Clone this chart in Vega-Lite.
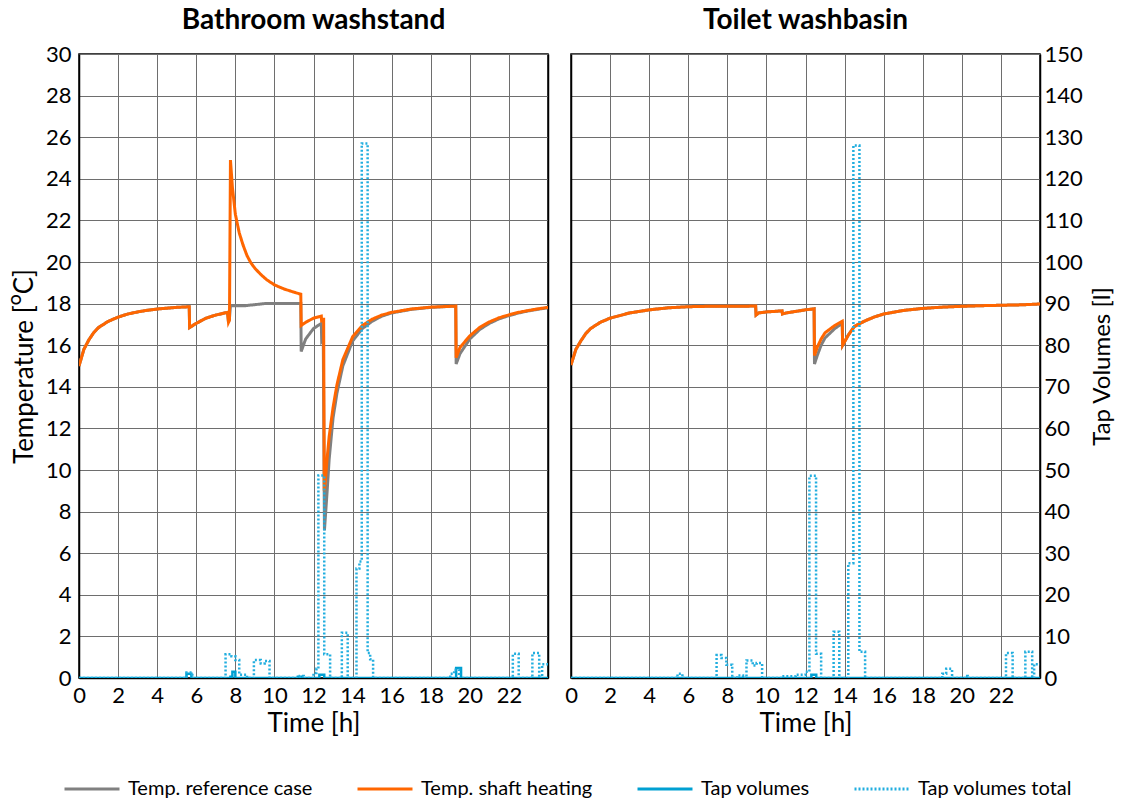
{
  "$schema": "https://vega.github.io/schema/vega-lite/v6.json",
  "padding": {"left": 10, "top": 6, "right": 2, "bottom": 2},
  "background": "white",
  "config": {
    "font": "Lato",
    "view": {"stroke": "black", "strokeWidth": 1.5},
    "axis": {"labelFont": "Lato", "titleFont": "Lato", "labelFontSize": 22, "titleFontSize": 26, "labelColor": "black", "titleColor": "black", "titleFontWeight": "normal", "domainColor": "black", "domainWidth": 1.5, "gridColor": "#6e6e6e", "gridWidth": 1, "gridOpacity": 1, "ticks": false, "labelPadding": 8, "labelFlush": false},
    "title": {"font": "Lato", "fontSize": 28, "fontWeight": "bold", "color": "black", "offset": 8},
    "legend": {"labelFont": "Lato", "labelFontSize": 20, "labelColor": "black", "labelLimit": 400}
  },
  "datasets": {
    "d": [
      {"p":"L","s":"Temp. reference case","t":0,"v":15.0},
      {"p":"L","s":"Temp. reference case","t":0.25,"v":15.8},
      {"p":"L","s":"Temp. reference case","t":0.5,"v":16.25},
      {"p":"L","s":"Temp. reference case","t":0.75,"v":16.6},
      {"p":"L","s":"Temp. reference case","t":1,"v":16.85},
      {"p":"L","s":"Temp. reference case","t":1.5,"v":17.15},
      {"p":"L","s":"Temp. reference case","t":2,"v":17.35},
      {"p":"L","s":"Temp. reference case","t":2.5,"v":17.5},
      {"p":"L","s":"Temp. reference case","t":3,"v":17.6},
      {"p":"L","s":"Temp. reference case","t":3.5,"v":17.68},
      {"p":"L","s":"Temp. reference case","t":4,"v":17.74},
      {"p":"L","s":"Temp. reference case","t":4.5,"v":17.78},
      {"p":"L","s":"Temp. reference case","t":5,"v":17.82},
      {"p":"L","s":"Temp. reference case","t":5.64,"v":17.85},
      {"p":"L","s":"Temp. reference case","t":5.66,"v":16.85},
      {"p":"L","s":"Temp. reference case","t":6,"v":17.05},
      {"p":"L","s":"Temp. reference case","t":6.5,"v":17.3},
      {"p":"L","s":"Temp. reference case","t":7,"v":17.45},
      {"p":"L","s":"Temp. reference case","t":7.6,"v":17.58},
      {"p":"L","s":"Temp. reference case","t":7.65,"v":17.1},
      {"p":"L","s":"Temp. reference case","t":7.7,"v":17.3},
      {"p":"L","s":"Temp. reference case","t":7.75,"v":17.9},
      {"p":"L","s":"Temp. reference case","t":8.5,"v":17.9},
      {"p":"L","s":"Temp. reference case","t":9,"v":17.95},
      {"p":"L","s":"Temp. reference case","t":9.5,"v":18.0},
      {"p":"L","s":"Temp. reference case","t":11.35,"v":18.0},
      {"p":"L","s":"Temp. reference case","t":11.37,"v":15.7},
      {"p":"L","s":"Temp. reference case","t":11.6,"v":16.3},
      {"p":"L","s":"Temp. reference case","t":12,"v":16.8},
      {"p":"L","s":"Temp. reference case","t":12.4,"v":17.05},
      {"p":"L","s":"Temp. reference case","t":12.42,"v":16.2},
      {"p":"L","s":"Temp. reference case","t":12.5,"v":16.3},
      {"p":"L","s":"Temp. reference case","t":12.56,"v":7.1},
      {"p":"L","s":"Temp. reference case","t":12.7,"v":9.0},
      {"p":"L","s":"Temp. reference case","t":12.8,"v":10.5},
      {"p":"L","s":"Temp. reference case","t":13.0,"v":12.5},
      {"p":"L","s":"Temp. reference case","t":13.2,"v":13.7},
      {"p":"L","s":"Temp. reference case","t":13.5,"v":15.0},
      {"p":"L","s":"Temp. reference case","t":14,"v":16.2},
      {"p":"L","s":"Temp. reference case","t":14.5,"v":16.8},
      {"p":"L","s":"Temp. reference case","t":15,"v":17.15},
      {"p":"L","s":"Temp. reference case","t":15.5,"v":17.4},
      {"p":"L","s":"Temp. reference case","t":16,"v":17.55},
      {"p":"L","s":"Temp. reference case","t":17,"v":17.72},
      {"p":"L","s":"Temp. reference case","t":18,"v":17.82},
      {"p":"L","s":"Temp. reference case","t":19.28,"v":17.88},
      {"p":"L","s":"Temp. reference case","t":19.3,"v":15.1},
      {"p":"L","s":"Temp. reference case","t":19.5,"v":15.6},
      {"p":"L","s":"Temp. reference case","t":20,"v":16.3},
      {"p":"L","s":"Temp. reference case","t":20.5,"v":16.75},
      {"p":"L","s":"Temp. reference case","t":21,"v":17.05},
      {"p":"L","s":"Temp. reference case","t":21.5,"v":17.27},
      {"p":"L","s":"Temp. reference case","t":22,"v":17.42},
      {"p":"L","s":"Temp. reference case","t":22.5,"v":17.55},
      {"p":"L","s":"Temp. reference case","t":23,"v":17.65},
      {"p":"L","s":"Temp. reference case","t":23.5,"v":17.73},
      {"p":"L","s":"Temp. reference case","t":24,"v":17.8},

      {"p":"L","s":"Temp. shaft heating","t":0,"v":15.0},
      {"p":"L","s":"Temp. shaft heating","t":0.25,"v":15.8},
      {"p":"L","s":"Temp. shaft heating","t":0.5,"v":16.25},
      {"p":"L","s":"Temp. shaft heating","t":0.75,"v":16.6},
      {"p":"L","s":"Temp. shaft heating","t":1,"v":16.85},
      {"p":"L","s":"Temp. shaft heating","t":1.5,"v":17.15},
      {"p":"L","s":"Temp. shaft heating","t":2,"v":17.35},
      {"p":"L","s":"Temp. shaft heating","t":2.5,"v":17.5},
      {"p":"L","s":"Temp. shaft heating","t":3,"v":17.6},
      {"p":"L","s":"Temp. shaft heating","t":3.5,"v":17.68},
      {"p":"L","s":"Temp. shaft heating","t":4,"v":17.74},
      {"p":"L","s":"Temp. shaft heating","t":4.5,"v":17.78},
      {"p":"L","s":"Temp. shaft heating","t":5,"v":17.82},
      {"p":"L","s":"Temp. shaft heating","t":5.64,"v":17.85},
      {"p":"L","s":"Temp. shaft heating","t":5.66,"v":16.85},
      {"p":"L","s":"Temp. shaft heating","t":6,"v":17.05},
      {"p":"L","s":"Temp. shaft heating","t":6.5,"v":17.3},
      {"p":"L","s":"Temp. shaft heating","t":7,"v":17.45},
      {"p":"L","s":"Temp. shaft heating","t":7.6,"v":17.58},
      {"p":"L","s":"Temp. shaft heating","t":7.65,"v":17.1},
      {"p":"L","s":"Temp. shaft heating","t":7.7,"v":17.2},
      {"p":"L","s":"Temp. shaft heating","t":7.75,"v":24.9},
      {"p":"L","s":"Temp. shaft heating","t":7.85,"v":23.6},
      {"p":"L","s":"Temp. shaft heating","t":8.0,"v":22.3},
      {"p":"L","s":"Temp. shaft heating","t":8.2,"v":21.4},
      {"p":"L","s":"Temp. shaft heating","t":8.4,"v":20.8},
      {"p":"L","s":"Temp. shaft heating","t":8.6,"v":20.3},
      {"p":"L","s":"Temp. shaft heating","t":8.8,"v":19.95},
      {"p":"L","s":"Temp. shaft heating","t":9.0,"v":19.7},
      {"p":"L","s":"Temp. shaft heating","t":9.3,"v":19.4},
      {"p":"L","s":"Temp. shaft heating","t":9.6,"v":19.15},
      {"p":"L","s":"Temp. shaft heating","t":10,"v":18.9},
      {"p":"L","s":"Temp. shaft heating","t":10.5,"v":18.7},
      {"p":"L","s":"Temp. shaft heating","t":11,"v":18.55},
      {"p":"L","s":"Temp. shaft heating","t":11.35,"v":18.45},
      {"p":"L","s":"Temp. shaft heating","t":11.37,"v":16.95},
      {"p":"L","s":"Temp. shaft heating","t":11.6,"v":17.1},
      {"p":"L","s":"Temp. shaft heating","t":12,"v":17.3},
      {"p":"L","s":"Temp. shaft heating","t":12.4,"v":17.4},
      {"p":"L","s":"Temp. shaft heating","t":12.42,"v":17.1},
      {"p":"L","s":"Temp. shaft heating","t":12.45,"v":17.25},
      {"p":"L","s":"Temp. shaft heating","t":12.52,"v":17.25},
      {"p":"L","s":"Temp. shaft heating","t":12.55,"v":9.0},
      {"p":"L","s":"Temp. shaft heating","t":12.6,"v":9.4},
      {"p":"L","s":"Temp. shaft heating","t":12.7,"v":10.6},
      {"p":"L","s":"Temp. shaft heating","t":12.8,"v":11.6},
      {"p":"L","s":"Temp. shaft heating","t":13.0,"v":13.0},
      {"p":"L","s":"Temp. shaft heating","t":13.2,"v":14.1},
      {"p":"L","s":"Temp. shaft heating","t":13.5,"v":15.3},
      {"p":"L","s":"Temp. shaft heating","t":14,"v":16.4},
      {"p":"L","s":"Temp. shaft heating","t":14.5,"v":16.95},
      {"p":"L","s":"Temp. shaft heating","t":15,"v":17.25},
      {"p":"L","s":"Temp. shaft heating","t":15.5,"v":17.45},
      {"p":"L","s":"Temp. shaft heating","t":16,"v":17.58},
      {"p":"L","s":"Temp. shaft heating","t":17,"v":17.74},
      {"p":"L","s":"Temp. shaft heating","t":18,"v":17.83},
      {"p":"L","s":"Temp. shaft heating","t":19.28,"v":17.88},
      {"p":"L","s":"Temp. shaft heating","t":19.3,"v":15.4},
      {"p":"L","s":"Temp. shaft heating","t":19.5,"v":15.9},
      {"p":"L","s":"Temp. shaft heating","t":20,"v":16.45},
      {"p":"L","s":"Temp. shaft heating","t":20.5,"v":16.85},
      {"p":"L","s":"Temp. shaft heating","t":21,"v":17.12},
      {"p":"L","s":"Temp. shaft heating","t":21.5,"v":17.32},
      {"p":"L","s":"Temp. shaft heating","t":22,"v":17.46},
      {"p":"L","s":"Temp. shaft heating","t":22.5,"v":17.58},
      {"p":"L","s":"Temp. shaft heating","t":23,"v":17.67},
      {"p":"L","s":"Temp. shaft heating","t":23.5,"v":17.75},
      {"p":"L","s":"Temp. shaft heating","t":24,"v":17.82},

      {"p":"L","s":"Tap volumes","t":0,"v":0},
      {"p":"L","s":"Tap volumes","t":5.5,"v":1.0},
      {"p":"L","s":"Tap volumes","t":5.75,"v":0},
      {"p":"L","s":"Tap volumes","t":7.75,"v":0.3},
      {"p":"L","s":"Tap volumes","t":7.85,"v":1.5},
      {"p":"L","s":"Tap volumes","t":8.0,"v":0},
      {"p":"L","s":"Tap volumes","t":11.2,"v":0.3},
      {"p":"L","s":"Tap volumes","t":11.4,"v":0},
      {"p":"L","s":"Tap volumes","t":12.3,"v":0.8},
      {"p":"L","s":"Tap volumes","t":12.55,"v":0},
      {"p":"L","s":"Tap volumes","t":19.3,"v":2.4},
      {"p":"L","s":"Tap volumes","t":19.55,"v":0},
      {"p":"L","s":"Tap volumes","t":24,"v":0},

      {"p":"L","s":"Tap volumes total","t":0,"v":0},
      {"p":"L","s":"Tap volumes total","t":5.5,"v":1.3},
      {"p":"L","s":"Tap volumes total","t":5.8,"v":0},
      {"p":"L","s":"Tap volumes total","t":7.5,"v":5.7},
      {"p":"L","s":"Tap volumes total","t":7.8,"v":5.2},
      {"p":"L","s":"Tap volumes total","t":8.0,"v":4.3},
      {"p":"L","s":"Tap volumes total","t":8.2,"v":0.8},
      {"p":"L","s":"Tap volumes total","t":8.6,"v":0},
      {"p":"L","s":"Tap volumes total","t":8.95,"v":4.3},
      {"p":"L","s":"Tap volumes total","t":9.3,"v":3.5},
      {"p":"L","s":"Tap volumes total","t":9.5,"v":4.1},
      {"p":"L","s":"Tap volumes total","t":9.75,"v":0},
      {"p":"L","s":"Tap volumes total","t":11.3,"v":0.5},
      {"p":"L","s":"Tap volumes total","t":11.5,"v":0},
      {"p":"L","s":"Tap volumes total","t":12.0,"v":1.2},
      {"p":"L","s":"Tap volumes total","t":12.15,"v":2.2},
      {"p":"L","s":"Tap volumes total","t":12.25,"v":48.7},
      {"p":"L","s":"Tap volumes total","t":12.55,"v":5.7},
      {"p":"L","s":"Tap volumes total","t":12.85,"v":0},
      {"p":"L","s":"Tap volumes total","t":13.45,"v":10.9},
      {"p":"L","s":"Tap volumes total","t":13.75,"v":0},
      {"p":"L","s":"Tap volumes total","t":14.2,"v":26.3},
      {"p":"L","s":"Tap volumes total","t":14.35,"v":28.0},
      {"p":"L","s":"Tap volumes total","t":14.47,"v":128.5},
      {"p":"L","s":"Tap volumes total","t":14.77,"v":6.0},
      {"p":"L","s":"Tap volumes total","t":14.9,"v":4.5},
      {"p":"L","s":"Tap volumes total","t":15.05,"v":0},
      {"p":"L","s":"Tap volumes total","t":19.0,"v":1.0},
      {"p":"L","s":"Tap volumes total","t":19.2,"v":2.0},
      {"p":"L","s":"Tap volumes total","t":19.45,"v":0},
      {"p":"L","s":"Tap volumes total","t":22.2,"v":5.8},
      {"p":"L","s":"Tap volumes total","t":22.5,"v":0},
      {"p":"L","s":"Tap volumes total","t":23.2,"v":6.0},
      {"p":"L","s":"Tap volumes total","t":23.55,"v":0},
      {"p":"L","s":"Tap volumes total","t":23.7,"v":3.3},
      {"p":"L","s":"Tap volumes total","t":24,"v":3.3},

      {"p":"R","s":"Temp. reference case","t":0,"v":15.05},
      {"p":"R","s":"Temp. reference case","t":0.25,"v":15.8},
      {"p":"R","s":"Temp. reference case","t":0.5,"v":16.2},
      {"p":"R","s":"Temp. reference case","t":0.75,"v":16.55},
      {"p":"R","s":"Temp. reference case","t":1,"v":16.8},
      {"p":"R","s":"Temp. reference case","t":1.5,"v":17.1},
      {"p":"R","s":"Temp. reference case","t":2,"v":17.3},
      {"p":"R","s":"Temp. reference case","t":3,"v":17.55},
      {"p":"R","s":"Temp. reference case","t":4,"v":17.7},
      {"p":"R","s":"Temp. reference case","t":5,"v":17.8},
      {"p":"R","s":"Temp. reference case","t":6,"v":17.85},
      {"p":"R","s":"Temp. reference case","t":7,"v":17.87},
      {"p":"R","s":"Temp. reference case","t":9.45,"v":17.88},
      {"p":"R","s":"Temp. reference case","t":9.47,"v":17.45},
      {"p":"R","s":"Temp. reference case","t":9.6,"v":17.55},
      {"p":"R","s":"Temp. reference case","t":10,"v":17.6},
      {"p":"R","s":"Temp. reference case","t":10.8,"v":17.65},
      {"p":"R","s":"Temp. reference case","t":10.82,"v":17.5},
      {"p":"R","s":"Temp. reference case","t":11,"v":17.55},
      {"p":"R","s":"Temp. reference case","t":12,"v":17.7},
      {"p":"R","s":"Temp. reference case","t":12.44,"v":17.75},
      {"p":"R","s":"Temp. reference case","t":12.46,"v":15.1},
      {"p":"R","s":"Temp. reference case","t":12.6,"v":15.5},
      {"p":"R","s":"Temp. reference case","t":12.8,"v":16.0},
      {"p":"R","s":"Temp. reference case","t":13.0,"v":16.35},
      {"p":"R","s":"Temp. reference case","t":13.5,"v":16.8},
      {"p":"R","s":"Temp. reference case","t":13.88,"v":17.05},
      {"p":"R","s":"Temp. reference case","t":13.9,"v":16.0},
      {"p":"R","s":"Temp. reference case","t":14.2,"v":16.5},
      {"p":"R","s":"Temp. reference case","t":14.5,"v":16.9},
      {"p":"R","s":"Temp. reference case","t":15,"v":17.15},
      {"p":"R","s":"Temp. reference case","t":15.5,"v":17.35},
      {"p":"R","s":"Temp. reference case","t":16,"v":17.5},
      {"p":"R","s":"Temp. reference case","t":17,"v":17.67},
      {"p":"R","s":"Temp. reference case","t":18,"v":17.77},
      {"p":"R","s":"Temp. reference case","t":19,"v":17.83},
      {"p":"R","s":"Temp. reference case","t":20,"v":17.87},
      {"p":"R","s":"Temp. reference case","t":21,"v":17.9},
      {"p":"R","s":"Temp. reference case","t":22,"v":17.92},
      {"p":"R","s":"Temp. reference case","t":23,"v":17.94},
      {"p":"R","s":"Temp. reference case","t":24,"v":17.98},

      {"p":"R","s":"Temp. shaft heating","t":0,"v":15.05},
      {"p":"R","s":"Temp. shaft heating","t":0.25,"v":15.8},
      {"p":"R","s":"Temp. shaft heating","t":0.5,"v":16.2},
      {"p":"R","s":"Temp. shaft heating","t":0.75,"v":16.55},
      {"p":"R","s":"Temp. shaft heating","t":1,"v":16.8},
      {"p":"R","s":"Temp. shaft heating","t":1.5,"v":17.1},
      {"p":"R","s":"Temp. shaft heating","t":2,"v":17.3},
      {"p":"R","s":"Temp. shaft heating","t":3,"v":17.55},
      {"p":"R","s":"Temp. shaft heating","t":4,"v":17.7},
      {"p":"R","s":"Temp. shaft heating","t":5,"v":17.8},
      {"p":"R","s":"Temp. shaft heating","t":6,"v":17.85},
      {"p":"R","s":"Temp. shaft heating","t":7,"v":17.87},
      {"p":"R","s":"Temp. shaft heating","t":9.45,"v":17.88},
      {"p":"R","s":"Temp. shaft heating","t":9.47,"v":17.45},
      {"p":"R","s":"Temp. shaft heating","t":9.6,"v":17.55},
      {"p":"R","s":"Temp. shaft heating","t":10,"v":17.6},
      {"p":"R","s":"Temp. shaft heating","t":10.8,"v":17.65},
      {"p":"R","s":"Temp. shaft heating","t":10.82,"v":17.5},
      {"p":"R","s":"Temp. shaft heating","t":11,"v":17.55},
      {"p":"R","s":"Temp. shaft heating","t":12,"v":17.7},
      {"p":"R","s":"Temp. shaft heating","t":12.44,"v":17.75},
      {"p":"R","s":"Temp. shaft heating","t":12.46,"v":15.5},
      {"p":"R","s":"Temp. shaft heating","t":12.6,"v":15.9},
      {"p":"R","s":"Temp. shaft heating","t":12.8,"v":16.3},
      {"p":"R","s":"Temp. shaft heating","t":13.0,"v":16.6},
      {"p":"R","s":"Temp. shaft heating","t":13.5,"v":16.95},
      {"p":"R","s":"Temp. shaft heating","t":13.88,"v":17.15},
      {"p":"R","s":"Temp. shaft heating","t":13.9,"v":16.0},
      {"p":"R","s":"Temp. shaft heating","t":14.2,"v":16.5},
      {"p":"R","s":"Temp. shaft heating","t":14.5,"v":16.9},
      {"p":"R","s":"Temp. shaft heating","t":15,"v":17.15},
      {"p":"R","s":"Temp. shaft heating","t":15.5,"v":17.35},
      {"p":"R","s":"Temp. shaft heating","t":16,"v":17.5},
      {"p":"R","s":"Temp. shaft heating","t":17,"v":17.67},
      {"p":"R","s":"Temp. shaft heating","t":18,"v":17.77},
      {"p":"R","s":"Temp. shaft heating","t":19,"v":17.83},
      {"p":"R","s":"Temp. shaft heating","t":20,"v":17.87},
      {"p":"R","s":"Temp. shaft heating","t":21,"v":17.9},
      {"p":"R","s":"Temp. shaft heating","t":22,"v":17.92},
      {"p":"R","s":"Temp. shaft heating","t":23,"v":17.94},
      {"p":"R","s":"Temp. shaft heating","t":24,"v":17.98},

      {"p":"R","s":"Tap volumes","t":0,"v":0},
      {"p":"R","s":"Tap volumes","t":12.3,"v":0.8},
      {"p":"R","s":"Tap volumes","t":12.55,"v":0},
      {"p":"R","s":"Tap volumes","t":24,"v":0},

      {"p":"R","s":"Tap volumes total","t":0,"v":0},
      {"p":"R","s":"Tap volumes total","t":5.45,"v":1.0},
      {"p":"R","s":"Tap volumes total","t":5.7,"v":0},
      {"p":"R","s":"Tap volumes total","t":7.45,"v":5.5},
      {"p":"R","s":"Tap volumes total","t":7.7,"v":4.8},
      {"p":"R","s":"Tap volumes total","t":7.95,"v":3.2},
      {"p":"R","s":"Tap volumes total","t":8.25,"v":0},
      {"p":"R","s":"Tap volumes total","t":8.5,"v":0.6},
      {"p":"R","s":"Tap volumes total","t":8.8,"v":0},
      {"p":"R","s":"Tap volumes total","t":8.98,"v":4.2},
      {"p":"R","s":"Tap volumes total","t":9.3,"v":3.0},
      {"p":"R","s":"Tap volumes total","t":9.5,"v":3.6},
      {"p":"R","s":"Tap volumes total","t":9.78,"v":0},
      {"p":"R","s":"Tap volumes total","t":10.8,"v":0.4},
      {"p":"R","s":"Tap volumes total","t":11.5,"v":0.8},
      {"p":"R","s":"Tap volumes total","t":12.0,"v":1.5},
      {"p":"R","s":"Tap volumes total","t":12.2,"v":48.6},
      {"p":"R","s":"Tap volumes total","t":12.54,"v":5.8},
      {"p":"R","s":"Tap volumes total","t":12.8,"v":0},
      {"p":"R","s":"Tap volumes total","t":13.44,"v":11.1},
      {"p":"R","s":"Tap volumes total","t":13.73,"v":0},
      {"p":"R","s":"Tap volumes total","t":14.19,"v":27.6},
      {"p":"R","s":"Tap volumes total","t":14.45,"v":128.0},
      {"p":"R","s":"Tap volumes total","t":14.76,"v":6.3},
      {"p":"R","s":"Tap volumes total","t":15.05,"v":0},
      {"p":"R","s":"Tap volumes total","t":19.0,"v":1.0},
      {"p":"R","s":"Tap volumes total","t":19.2,"v":2.2},
      {"p":"R","s":"Tap volumes total","t":19.5,"v":0},
      {"p":"R","s":"Tap volumes total","t":20.2,"v":0.5},
      {"p":"R","s":"Tap volumes total","t":20.3,"v":0},
      {"p":"R","s":"Tap volumes total","t":22.26,"v":6.0},
      {"p":"R","s":"Tap volumes total","t":22.6,"v":0},
      {"p":"R","s":"Tap volumes total","t":23.25,"v":6.3},
      {"p":"R","s":"Tap volumes total","t":23.6,"v":0},
      {"p":"R","s":"Tap volumes total","t":23.7,"v":3.3},
      {"p":"R","s":"Tap volumes total","t":24,"v":3.3}
    ]
  },
  "data": {"name": "d"},
  "spacing": 14,
  "hconcat": [
    {
      "title": "Bathroom washstand",
      "width": 469,
      "height": 624,
      "transform": [{"filter": "datum.p === 'L'"}],
      "layer": [
        {
          "transform": [{"filter": "datum.s === 'Temp. reference case' || datum.s === 'Temp. shaft heating'"}],
          "mark": {"type": "line", "strokeWidth": 3, "clip": true},
          "encoding": {
            "x": {"field": "t", "type": "quantitative", "scale": {"domain": [0, 24], "nice": false}, "axis": {"values": [0,2,4,6,8,10,12,14,16,18,20,22], "title": "Time [h]", "titlePadding": 4, "labelPadding": 7}},
            "y": {"field": "v", "type": "quantitative", "scale": {"domain": [0, 30], "nice": false}, "axis": {"values": [0,2,4,6,8,10,12,14,16,18,20,22,24,26,28,30], "title": "Temperature [ᴼC]", "titlePadding": 8}},
            "color": {"field": "s", "type": "nominal", "scale": {"domain": ["Temp. reference case", "Temp. shaft heating", "Tap volumes", "Tap volumes total"], "range": ["#808080", "#FF6600", "#00A0D2", "#22AEDF"]}, "legend": {"title": null, "orient": "none", "legendX": -16, "legendY": 706, "direction": "horizontal", "columns": 4, "columnPadding": 38, "symbolType": "stroke", "symbolSize": 3025, "symbolStrokeWidth": 3, "labelOffset": 7}},
            "strokeDash": {"field": "s", "type": "nominal", "scale": {"domain": ["Temp. reference case", "Temp. shaft heating", "Tap volumes", "Tap volumes total"], "range": [[1, 0], [1, 0], [1, 0], [2, 2]]}, "legend": {"title": null, "orient": "none", "legendX": -16, "legendY": 706, "direction": "horizontal", "columns": 4, "columnPadding": 38, "symbolType": "stroke", "symbolSize": 3025, "symbolStrokeWidth": 3, "labelOffset": 7}}
          }
        },
        {
          "transform": [{"filter": "datum.s === 'Tap volumes' || datum.s === 'Tap volumes total'"}],
          "mark": {"type": "line", "strokeWidth": 2.5, "interpolate": "step-after", "clip": true},
          "encoding": {
            "x": {"field": "t", "type": "quantitative", "scale": {"domain": [0, 24], "nice": false}},
            "y": {"field": "v", "type": "quantitative", "scale": {"domain": [0, 150], "nice": false}, "axis": {"orient": "right", "labels": false, "grid": false, "title": null}},
            "color": {"field": "s", "type": "nominal"},
            "strokeDash": {"field": "s", "type": "nominal"}
          }
        }
      ],
      "resolve": {"scale": {"y": "independent"}}
    },
    {
      "title": "Toilet washbasin",
      "width": 469,
      "height": 624,
      "transform": [{"filter": "datum.p === 'R'"}],
      "layer": [
        {
          "transform": [{"filter": "datum.s === 'Temp. reference case' || datum.s === 'Temp. shaft heating'"}],
          "mark": {"type": "line", "strokeWidth": 3, "clip": true},
          "encoding": {
            "x": {"field": "t", "type": "quantitative", "scale": {"domain": [0, 24], "nice": false}, "axis": {"values": [0,2,4,6,8,10,12,14,16,18,20,22], "title": "Time [h]", "titlePadding": 4, "labelPadding": 7}},
            "y": {"field": "v", "type": "quantitative", "scale": {"domain": [0, 30], "nice": false}, "axis": {"values": [0,2,4,6,8,10,12,14,16,18,20,22,24,26,28,30], "labels": false, "title": null}},
            "color": {"field": "s", "type": "nominal"},
            "strokeDash": {"field": "s", "type": "nominal"}
          }
        },
        {
          "transform": [{"filter": "datum.s === 'Tap volumes' || datum.s === 'Tap volumes total'"}],
          "mark": {"type": "line", "strokeWidth": 2.5, "interpolate": "step-after", "clip": true},
          "encoding": {
            "x": {"field": "t", "type": "quantitative", "scale": {"domain": [0, 24], "nice": false}},
            "y": {"field": "v", "type": "quantitative", "scale": {"domain": [0, 150], "nice": false}, "axis": {"orient": "right", "values": [0,10,20,30,40,50,60,70,80,90,100,110,120,130,140,150], "grid": false, "title": "Tap Volumes [l]", "titleAngle": 270, "titleBaseline": "top", "titleFontSize": 24, "titlePadding": 8, "labelPadding": 4}},
            "color": {"field": "s", "type": "nominal"},
            "strokeDash": {"field": "s", "type": "nominal"}
          }
        }
      ],
      "resolve": {"scale": {"y": "independent"}}
    }
  ]
}
